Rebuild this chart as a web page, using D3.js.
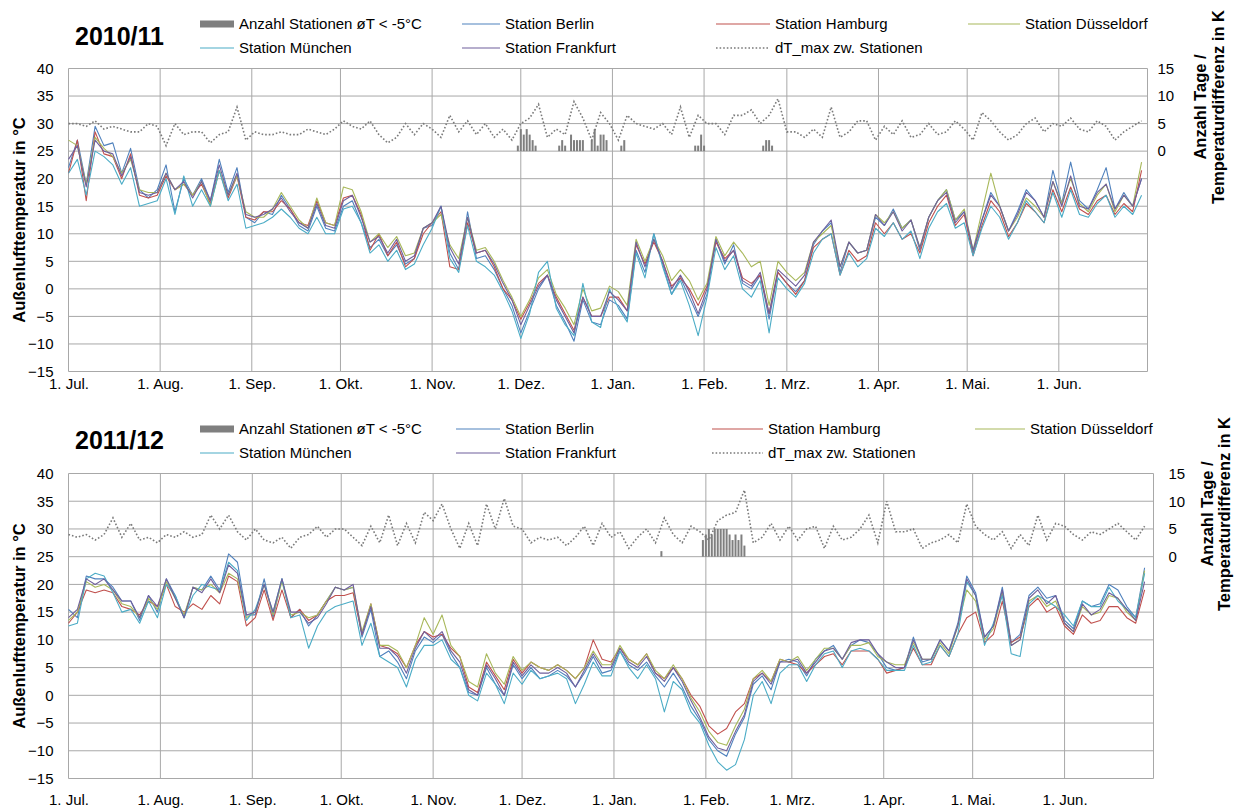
<!DOCTYPE html>
<html>
<head>
<meta charset="utf-8">
<script src="https://cdn.jsdelivr.net/npm/d3@7"></script>
<style>
  body { margin: 0; background: #fff; }
  svg { display: block; }
</style>
</head>
<body>
<svg id="chart" width="1238" height="809"></svg>
<script>
// ---- shared axis labels / ticks ----
const monthLabels = ["1. Jul.", "1. Aug.", "1. Sep.", "1. Okt.", "1. Nov.", "1. Dez.",
                     "1. Jan.", "1. Feb.", "1. Mrz.", "1. Apr.", "1. Mai.", "1. Jun."];
const tempTicks = [-15, -10, -5, 0, 5, 10, 15, 20, 25, 30, 35, 40];
const rightTicks = [0, 5, 10, 15];
const stationNames = ["Station Berlin", "Station Hamburg", "Station Düsseldorf", "Station München", "Station Frankfurt"];
const barLabel = "Anzahl Stationen øT < -5°C";
const dtLabel = "dT_max zw. Stationen";
const STEP = 3; // days between stored samples, first sample on 1 July

// ---- 2010/11: daily mean outdoor temperature (°C), sampled every 3 days ----
const berlin1011 = [22,27,19,29.5,26,26.5,21,25.5,18,16.5, 18,22.5,14,20,17,20,16,23.5,17.5,22, 13,12,14,13.5,17,14.5,11.5,10.5,15,11, 10.5,15,16,12,7.5,9,6,8,4.5,5.5, 11,11.5,15,6.5,3.5,14,5.5,6,3.5,0, -3,-8,-4,0,2.5,-3,-6,-9.5,-2,-6, -6.5,-2,-3,-5.5,7,3,10,4.5,-1,2, -1.5,-5,-1,9,4.5,8,1,0,2.5,-5.5, 3,1,-0.5,1.5,8,10.5,12,3,8.5,6.5, 7,13,11.5,14.5,11,12.5,7,13,16,18, 12.5,14,6.5,12.5,17.5,15,10.5,14,18,16, 13,21.5,15.5,23,16,14.5,18,22,14.5,17.5,15,20];
const hamburg1011 = [21,27,16,28.5,24.5,24,20,24.5,17,16.5, 17,20.5,18,19,17,19,15.5,21.5,16.5,20.5, 13,12.5,14,14,16,14.5,12,11.5,16,12, 11.5,16.5,17,13.5,7,10,6,8.5,4,5.5, 10,12,14,4,3.5,12,6.5,7,4,0, -2,-5.5,-2.5,1,2.5,-1.5,-4.5,-7.5,-1.5,-5, -5,-1.5,-1.5,-4,8,4.5,8.5,5,0.5,2, 0,-3,0.5,8.5,5.5,7,2,1,2.5,-4.5, 3,1,-1,1.5,7.5,9,10,2.5,7,5, 6,12,10,12,9,10,6.5,12,15,17, 11.5,13.5,6,11.5,16,14,9.5,12,15.5,14, 12,18,14,18.5,14.5,13.5,16,17,13.5,15.5,14,21.5];
const duesseldorf1011 = [27,26,19,27.5,25.5,24,21,23.5,18,17.5, 17.5,21,18,19,17,19.5,15,21.5,17,20.5, 14,13,13,14.5,17.5,15,12.5,11,16.5,12, 11.5,18.5,18,14,8.5,10,7.5,9.5,6,6.5, 11,12,13.5,8,5.5,13,7,7.5,5,1.5, -1.5,-5,-2,2,3.5,-1,-3.5,-6.5,0,-4, -3.5,0.5,-0.5,-3,9,5,9,6,1.5,3.5, 1.5,-2,1,9.5,6,8.5,6.5,4,5,-3, 5,3,1.5,3,8.5,10,11.5,4,8.5,6.5, 7,13.5,12,14,11,12.5,7.5,13,16,18, 12.5,14.5,7,14,21,15,10.5,13,16.5,15, 13,19.5,15.5,20,15.5,14,17,19,14,17,15,23];
const muenchen1011 = [21,23.5,17,25,24,22.5,19,22,15,15.5, 16,20,13.5,20.5,15,18,15,21.5,16,19, 11,11.5,12,13,14.5,13,11,10,13,10, 10,14.5,15,12,6.5,8,5,7,3.5,4.5, 8,11,15,5.5,3,11.5,5,4,2.5,-0.5, -4,-9,-4.5,3,5,-3.5,-6.5,-8.5,1,-6, -7,0,-3.5,-6,6.5,2,10,4,-1,1.5, -3,-8.5,-1.5,7.5,3.5,6,0,-1.5,1.5,-8, 2,0,-1.5,1,6.5,9,10,2.5,6.5,4, 5.5,11,9.5,12,9,10.5,5.5,11,14,15.5, 11,12,6,11,15,13,9,12,16,14, 12,17.5,13,18,13.5,13,15.5,17,13,15,13.5,17];
const frankfurt1011 = [23.5,26,18.5,27,25,24.5,20.5,24,17.5,17, 17.5,21,18,19.5,16.5,19.5,16,22.5,17,21, 13.5,13,13.5,14.5,16.5,14,12,11,15.5,11.5, 11,16,17,13,8.5,9.5,6.5,9,5,6, 11,12,15,7.5,4.5,13,6.5,7,4.5,1, -2,-6.5,-3,0.5,2.5,-2,-5,-8,-1.5,-5, -5,-0.5,-2,-4,8.5,4,9,5,0,2.5, -0.5,-4.5,0,9,5,7,1.5,0.5,3,-4.5, 3.5,2,0.5,2.5,8.5,10.5,12.5,4,8.5,6.5, 7,13.5,11.5,14,10.5,12.5,7.5,13,16,17.5, 12,14,7,12.5,17,15,10.5,13.5,17.5,16, 13,19.5,15,20.5,15,14.5,17.5,19,14.5,17,15,20];
// largest temperature difference between the stations (K), every 3 days
const dtMax1011 = [5,5,4.5,5.5,4,4.5,4,3.5,3.5,5, 4.5,1,5,3,3.5,3.5,1.5,3,3.5,8, 2,3.5,3,3,3.5,3,3,4,3.5,3, 4,5.5,4.5,4,5.5,3,1.5,2.5,5,3, 5,4,2.5,6.5,3.5,5.5,3,5,2.5,4, 2,5,6,8.5,2.5,4,3,9,6,2, 7,5,2,6.5,5,4.5,4,5,3,8, 2.5,6.5,5,5,3,6.5,6.5,7.5,5,6.5, 9.5,3.5,3.5,2.5,4,2.5,8,2.5,3.5,5.5, 5.5,2,4.5,3,5.5,2.5,3,5,3,3.5, 5.5,4,2,7,5.5,3.5,2,3,5,6, 3.5,5,4.5,6,4,3.5,5.5,4.5,2,3.5,4.5,5.5];
// days (counted from 1 July) on which stations had a daily mean below -5 °C
const coldDays1011   = [152,153,154,155,156,157,158, 166,167,168, 170,171,172,173,174, 177,178,179,180,181,182, 187,188, 212,213,214,215, 235,236,237,238];
const coldCounts1011 = [1,4,3,4,3,2,1, 1,2,1, 3,2,2,2,2, 2,4,1,3,3,2, 1,2, 1,1,3,1, 1,2,2,1];

// ---- 2011/12 ----
const berlin1112 = [15.5,14,21.5,21,21,19.5,17,17,13.5,18, 15,21,18,14,19.5,19,21.5,19,25.5,24, 14.5,14.5,21,14,21,14,15.5,12.5,14.5,17, 19.5,19,19.5,10.5,15.5,7,8,6,3,8, 10.5,9.5,11,7.5,5,0.5,0,5,2,0, 5.5,3,5,3,3.5,4.5,3.5,1.5,4,7, 4,4.5,8,5.5,4.5,6,3.5,1.5,4,1.5, -2,-4.5,-8,-10,-11,-7,-4,2,3.5,1, 6,6.5,6,3.5,6.5,8,9,6.5,9,10, 9.5,7.5,5,4.5,5,10.5,6,6.5,10,8, 13,21.5,18.5,10.5,12.5,19.5,9.5,11,18,19.5, 17.5,18,13.5,12,17,16,16.5,20,19,16,14,23];
const hamburg1112 = [13,15,19,18.5,19,18.5,16,15.5,14.5,17, 16,20,16,15,16.5,15.5,18,16.5,21.5,20.5, 12.5,14,19,13.5,19,14,15.5,13.5,14.5,17, 18,18,18.5,11,16.5,9,8.5,7.5,5,9, 11.5,10.5,11,8.5,7,1.5,0.5,6,3.5,1, 6.5,4,6,5,4.5,5.5,4.5,3,5,10, 6.5,6,8.5,6.5,5.5,7.5,4,3,5,3, 0,-2,-5.5,-7,-6,-3,-1.5,3,4,2.5, 6.5,6,5.5,4,5.5,7,7.5,5.5,8,8, 8,6.5,4,4.5,5,8.5,5.5,5.5,9,7, 11,14,15,9.5,11,17,9.5,10.5,16,17.5, 15,16,12.5,11,14.5,13,13.5,16,16,14,13,19];
const duesseldorf1112 = [13.5,15,20.5,19.5,20,19,16.5,16,14,17.5, 15.5,20.5,17.5,14.5,19.5,19,20,18.5,22,21, 14,15,20,14.5,20.5,14.5,15,14,14.5,17, 19.5,19,19.5,11.5,16.5,9,9,8,5,9, 14,11,14.5,9,7,2.5,1.5,7.5,4,2, 7,4.5,6,5,4.5,5.5,4.5,3,5,8, 5.5,5.5,9,6.5,5.5,7.5,4.5,3,5.5,3, -0.5,-3,-6.5,-8.5,-9,-5.5,-2.5,3,4.5,2.5, 6.5,6,7,4.5,6.5,8.5,8.5,6.5,9,9, 9.5,7,6,5.5,5.5,9.5,6.5,6.5,9.5,7.5, 12.5,19,17,10,12,18.5,9,10,17,18, 16,17,13,11.5,16,14.5,15,18,17.5,15,13.5,22.5];
const muenchen1112 = [12.5,13,21,22,21.5,18.5,15,15.5,13,17, 14,20,18,14,18,20,19.5,19,24,22.5, 13.5,15.5,20,15,21,14,14.5,8.5,12.5,15, 16,16.5,17,9,13,7,6,5,1.5,6.5, 9,9,10,6.5,5,0,-1,4,2,-1.5, 4,2,4.5,3,3.5,4,3,-1.5,2,6, 3.5,3.5,8,5,3,5.5,3,-3,2.5,1, -3,-5,-9,-12,-13.5,-12.5,-8,0,2.5,-1.5, 4,5.5,5.5,2.5,5.5,7.5,8,5,8,8.5, 8,6.5,4.5,4.5,4.5,9,5.5,6,9,7, 11,20.5,18,9,13,18,7.5,7,16.5,18, 17,16,14.5,12.5,17,16,16,19.5,17,15.5,14,22];
const frankfurt1112 = [14,15.5,21,20,21,19,17,17,14,18, 16,21,17.5,14,19.5,18.5,21,18.5,23.5,22, 14.5,15,20,15,21,15,15,13,14,16.5, 19.5,19,20,11,16,8.5,8.5,7,4,8.5, 11.5,10,11.5,8,6,1,0,5.5,3,0, 6,3.5,5.5,4,4,5,4,1.5,4.5,7.5, 5,5,8.5,6,5,7,4,2.5,5,2.5, -1,-4,-7.5,-9.5,-10,-6.5,-3.5,2.5,4,2, 6,6,6.5,4,6,8,8.5,6.5,9.5,10, 10,7.5,6,5,5,10,6.5,6.5,10,8, 12.5,21,18,10.5,12.5,19,9,10,17.5,19, 16.5,18,13,11.5,16.5,14.5,15.5,18.5,17.5,15.5,13.5,20.5];
const dtMax1112 = [4,3.5,4,3,4,7,3.5,6,3,3.5, 2.5,4,3.5,4.5,3.5,4,7.5,5,7.5,4.5, 3,5,3,2.5,3.5,1.5,3.5,4,5.5,3.5, 5,5,3.5,2,5.5,2.5,7.5,2,6,2.5, 8,6.5,9.5,5,1.5,6,2,9.5,5,10.5, 5.5,5,2.5,3.5,3,3.5,2,3.5,5.5,2, 6,3.5,4.5,1.5,3.5,5,2.5,7,4,2.5, 5.5,4.5,3,6.5,7.5,8,12,2.5,3.5,6, 3,5.5,3,5,5.5,1.5,5.5,3,3.5,5, 7.5,2.5,10,4.5,4.5,5,1.5,2.5,3,4, 2.5,9.5,5.5,4,3,4.5,1.5,4,2,7.5, 3,6,5.5,4,3,4.5,4,5,6,4.5,3,5.5];
const coldDays1112   = [200, 214,215,216,217,218,219,220,221,222,223,224,225,226,227,228];
const coldCounts1112 = [1, 3,4,5,4,5,5,5,5,5,4,3,4,3,4,2];

// ---- styling ----
const FONT = '"Liberation Sans", Arial, Helvetica, sans-serif';
const GRID = "#a8a8a8";
const BAR = "#7f7f7f";
const DT_COLOR = "#7a7a7a";
const stationColors = ["#4f81bd", "#c0504d", "#a8b85a", "#4bacc6", "#6f5f9c"];

const panels = [
  { title: "2010/11", year: 2010,
    series: [berlin1011, hamburg1011, duesseldorf1011, muenchen1011, frankfurt1011],
    dt: dtMax1011, barDays: coldDays1011, barCounts: coldCounts1011,
    left: 68.5, right: 1147.5, top: 68.5, bottom: 371.5,
    xPad: 7, rightPad: 10, titleY: 45, legendRows: [24, 48],
    legendCols: [[200, 234], [462, 500], [716, 770], [968, 1020]],
    rightTitleX: [1206, 1224], rightTitleY: 107 },
  { title: "2011/12", year: 2011,
    series: [berlin1112, hamburg1112, duesseldorf1112, muenchen1112, frankfurt1112],
    dt: dtMax1112, barDays: coldDays1112, barCounts: coldCounts1112,
    left: 68.5, right: 1153.5, top: 473.5, bottom: 778.5,
    xPad: 16, rightPad: 15, titleY: 449, legendRows: [429, 453],
    legendCols: [[200, 234], [456, 500], [712, 763], [975, 1025]],
    rightTitleX: [1213, 1230], rightTitleY: 514 }
];

const svg = d3.select("#chart");

function drawPanel(p) {
  const g = svg.append("g");
  const start = new Date(Date.UTC(p.year, 6, 1));
  const end = new Date(Date.UTC(p.year + 1, 6, 1));
  const dayDate = d => new Date(Date.UTC(p.year, 6, 1 + d));
  const monthStarts = d3.utcMonth.range(start, end);

  const x = d3.scaleUtc().domain([start, end]).range([p.left, p.right]);
  const y = d3.scaleLinear().domain([-15, 40]).range([p.bottom, p.top]);
  const yR = d3.scaleLinear().domain([-40, 15]).range([p.bottom, p.top]);

  // grid
  g.append("g").selectAll("line").data(tempTicks).join("line")
    .attr("x1", p.left).attr("x2", p.right)
    .attr("y1", d => y(d)).attr("y2", d => y(d))
    .attr("stroke", GRID).attr("stroke-width", 1);
  g.append("g").selectAll("line").data(monthStarts.concat([end])).join("line")
    .attr("x1", d => x(d)).attr("x2", d => x(d))
    .attr("y1", p.top).attr("y2", p.bottom)
    .attr("stroke", GRID).attr("stroke-width", 1);

  // station count bars (right axis)
  const bars = p.barDays.map((d, i) => ({ day: d, n: p.barCounts[i] }));
  g.append("g").selectAll("rect").data(bars).join("rect")
    .attr("x", d => x(dayDate(d.day)) - 1)
    .attr("width", 2)
    .attr("y", d => yR(d.n))
    .attr("height", d => yR(0) - yR(d.n))
    .attr("fill", BAR);

  // station temperature lines
  const tLine = d3.line().x((v, i) => x(dayDate(i * STEP))).y(v => y(v));
  p.series.forEach((vals, k) => {
    g.append("path").datum(vals)
      .attr("d", tLine)
      .attr("fill", "none")
      .attr("stroke", stationColors[k])
      .attr("stroke-width", 1.1)
      .attr("stroke-linejoin", "round");
  });

  // max difference between stations (right axis), dotted
  const dLine = d3.line().x((v, i) => x(dayDate(i * STEP))).y(v => yR(v));
  g.append("path").datum(p.dt)
    .attr("d", dLine)
    .attr("fill", "none")
    .attr("stroke", DT_COLOR)
    .attr("stroke-width", 1.6)
    .attr("stroke-dasharray", "1.6,2");

  // axes
  const styleAxis = a => {
    a.select(".domain").remove();
    a.attr("font-family", FONT).attr("font-size", 15);
    a.selectAll("text").attr("fill", "#000");
  };
  g.append("g").attr("transform", `translate(${p.left},0)`)
    .call(d3.axisLeft(y).tickValues(tempTicks).tickSize(0).tickPadding(15))
    .call(styleAxis);
  g.append("g").attr("transform", `translate(0,${p.bottom})`)
    .call(d3.axisBottom(x).tickValues(monthStarts).tickFormat((d, i) => monthLabels[i]).tickSize(0).tickPadding(p.xPad))
    .call(styleAxis);
  g.append("g").attr("transform", `translate(${p.right},0)`)
    .call(d3.axisRight(yR).tickValues(rightTicks).tickSize(0).tickPadding(p.rightPad))
    .call(styleAxis);

  // axis titles
  g.append("text")
    .attr("transform", `translate(25,${(p.top + p.bottom) / 2}) rotate(-90)`)
    .attr("text-anchor", "middle")
    .attr("font-family", FONT).attr("font-size", 16.5).attr("font-weight", "bold")
    .text("Außenlufttemperatur in °C");
  ["Anzahl Tage /", "Temperaturdifferenz in K"].forEach((t, i) => {
    g.append("text")
      .attr("transform", `translate(${p.rightTitleX[i]},${p.rightTitleY}) rotate(-90)`)
      .attr("text-anchor", "middle")
      .attr("font-family", FONT).attr("font-size", 16.5).attr("font-weight", "bold")
      .text(t);
  });

  // panel title
  g.append("text")
    .attr("x", 75).attr("y", p.titleY)
    .attr("font-family", FONT).attr("font-size", 25).attr("font-weight", "bold")
    .text(p.title);

  // legend
  const items = [
    { kind: "bar", label: barLabel, col: 0, row: 0 },
    { kind: "line", k: 0, col: 1, row: 0 },
    { kind: "line", k: 1, col: 2, row: 0 },
    { kind: "line", k: 2, col: 3, row: 0 },
    { kind: "line", k: 3, col: 0, row: 1 },
    { kind: "line", k: 4, col: 1, row: 1 },
    { kind: "dt", label: dtLabel, col: 2, row: 1 }
  ];
  const lg = g.append("g");
  items.forEach(it => {
    const [x0, x1] = p.legendCols[it.col];
    const cy = p.legendRows[it.row];
    if (it.kind === "bar") {
      lg.append("rect").attr("x", x0).attr("y", cy - 3.5).attr("width", x1 - x0).attr("height", 7).attr("fill", BAR);
    } else if (it.kind === "line") {
      lg.append("line").attr("x1", x0).attr("x2", x1).attr("y1", cy).attr("y2", cy)
        .attr("stroke", stationColors[it.k]).attr("stroke-width", 1.1);
    } else {
      lg.append("line").attr("x1", x0).attr("x2", x1).attr("y1", cy).attr("y2", cy)
        .attr("stroke", DT_COLOR).attr("stroke-width", 1.6).attr("stroke-dasharray", "1.6,2");
    }
    lg.append("text")
      .attr("x", x1 + 5).attr("y", cy + 5)
      .attr("font-family", FONT).attr("font-size", 15)
      .text(it.kind === "line" ? stationNames[it.k] : it.label);
  });
}

panels.forEach(drawPanel);
</script>
</body>
</html>
